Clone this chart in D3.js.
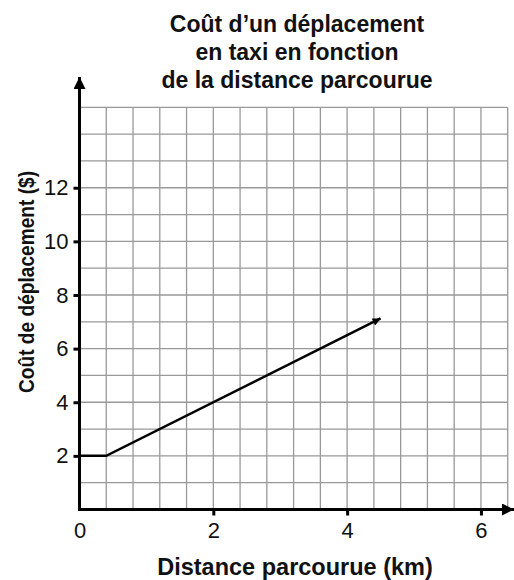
<!DOCTYPE html>
<html>
<head>
<meta charset="utf-8">
<script src="https://cdn.jsdelivr.net/npm/d3@7"></script>
<style>
    body { margin: 0; background: #fff; }
    text { font-family: "Liberation Sans", Arial, sans-serif; fill: #111; }
</style>
</head>
<body>
<div id="chart"></div>
<script>

const titleLines = ["Coût d’un déplacement", "en taxi en fonction", "de la distance parcourue"];
const xLabel = "Distance parcourue (km)";
const yLabel = "Coût de déplacement ($)";

// points of the taxi fare line (km, $)
const distances = [0, 0.4, 4.5];
const costs = [2, 2, 7.125];

const xTicks = [0, 2, 4, 6];
const yTicks = [2, 4, 6, 8, 10, 12];

const width = 514;
const height = 580;

const svg = d3.select("#chart")
    .append("svg")
    .attr("width", width)
    .attr("height", height);

const x = d3.scaleLinear()
    .domain([0, 6.4])
    .range([79.5, 507.7]);

const y = d3.scaleLinear()
    .domain([0, 15])
    .range([509.5, 107.3]);

// grid
const xGrid = d3.range(1, 17).map(function(i) { return i * 0.4; });
const yGrid = d3.range(1, 16);

svg.append("g")
    .selectAll("line")
    .data(xGrid)
    .enter()
    .append("line")
    .attr("x1", function(d) { return x(d); })
    .attr("x2", function(d) { return x(d); })
    .attr("y1", y(0))
    .attr("y2", y(15))
    .attr("stroke", "#999")
    .attr("stroke-width", 1.3);

svg.append("g")
    .selectAll("line")
    .data(yGrid)
    .enter()
    .append("line")
    .attr("x1", x(0))
    .attr("x2", x(6.4))
    .attr("y1", function(d) { return y(d); })
    .attr("y2", function(d) { return y(d); })
    .attr("stroke", "#999")
    .attr("stroke-width", 1.3);

// arrow heads
const defs = svg.append("defs");

defs.append("marker")
    .attr("id", "axisArrow")
    .attr("viewBox", "0 0 10 10")
    .attr("refX", 10)
    .attr("refY", 5)
    .attr("markerUnits", "userSpaceOnUse")
    .attr("markerWidth", 20)
    .attr("markerHeight", 12)
    .attr("orient", "auto")
    .append("path")
    .attr("d", "M0,0 L10,5 L0,10 Z")
    .attr("fill", "#000");

defs.append("marker")
    .attr("id", "lineArrow")
    .attr("viewBox", "0 0 10 10")
    .attr("refX", 10)
    .attr("refY", 5)
    .attr("markerUnits", "userSpaceOnUse")
    .attr("markerWidth", 11)
    .attr("markerHeight", 8)
    .attr("orient", "auto")
    .append("path")
    .attr("d", "M0,0 L10,5 L0,10 Z")
    .attr("fill", "#000");

// axes
const xAxis = d3.axisBottom(x)
    .tickValues(xTicks)
    .tickSize(6)
    .tickPadding(7)
    .tickFormat(d3.format("d"));

const gx = svg.append("g")
    .attr("transform", "translate(0," + y(0) + ")")
    .call(xAxis);

gx.select(".domain").remove();
gx.selectAll(".tick line")
    .attr("stroke", "#000")
    .attr("stroke-width", 3)
    .filter(function(d) { return d === 0; })
    .remove();
gx.selectAll(".tick text")
    .attr("font-size", 22)
    .attr("font-family", "Liberation Sans, Arial, sans-serif")
    .attr("fill", "#111");

const yAxis = d3.axisLeft(y)
    .tickValues(yTicks)
    .tickSize(6)
    .tickPadding(5);

const gy = svg.append("g")
    .attr("transform", "translate(" + x(0) + ",0)")
    .call(yAxis);

gy.select(".domain").remove();
gy.selectAll(".tick line")
    .attr("stroke", "#000")
    .attr("stroke-width", 3);
gy.selectAll(".tick text")
    .attr("font-size", 22)
    .attr("font-family", "Liberation Sans, Arial, sans-serif")
    .attr("fill", "#111");

svg.append("line")
    .attr("x1", x(0) - 1.5)
    .attr("x2", 514)
    .attr("y1", y(0))
    .attr("y2", y(0))
    .attr("stroke", "#000")
    .attr("stroke-width", 3)
    .attr("marker-end", "url(#axisArrow)");

svg.append("line")
    .attr("x1", x(0))
    .attr("x2", x(0))
    .attr("y1", y(0) + 1.5)
    .attr("y2", 77)
    .attr("stroke", "#000")
    .attr("stroke-width", 3)
    .attr("marker-end", "url(#axisArrow)");

// fare line
const points = distances.map(function(d, i) {
    return [d, costs[i]];
});

const line = d3.line()
    .x(function(d) { return x(d[0]); })
    .y(function(d) { return y(d[1]); });

svg.append("path")
    .datum(points)
    .attr("d", line)
    .attr("fill", "none")
    .attr("stroke", "#000")
    .attr("stroke-width", 2.5)
    .attr("marker-end", "url(#lineArrow)");

// title
svg.append("g")
    .selectAll("text")
    .data(titleLines)
    .enter()
    .append("text")
    .attr("x", 297)
    .attr("y", function(d, i) { return 32 + i * 28; })
    .attr("text-anchor", "middle")
    .attr("font-size", 23)
    .attr("font-weight", "bold")
    .text(function(d) { return d; });

svg.append("text")
    .attr("x", 295)
    .attr("y", 575)
    .attr("text-anchor", "middle")
    .attr("font-size", 23.5)
    .attr("font-weight", "bold")
    .text(xLabel);

svg.append("text")
    .attr("transform", "translate(34,282) rotate(-90)")
    .attr("text-anchor", "middle")
    .attr("font-size", 22)
    .attr("font-weight", "bold")
    .attr("textLength", 222)
    .attr("lengthAdjust", "spacingAndGlyphs")
    .text(yLabel);

</script>
</body>
</html>
